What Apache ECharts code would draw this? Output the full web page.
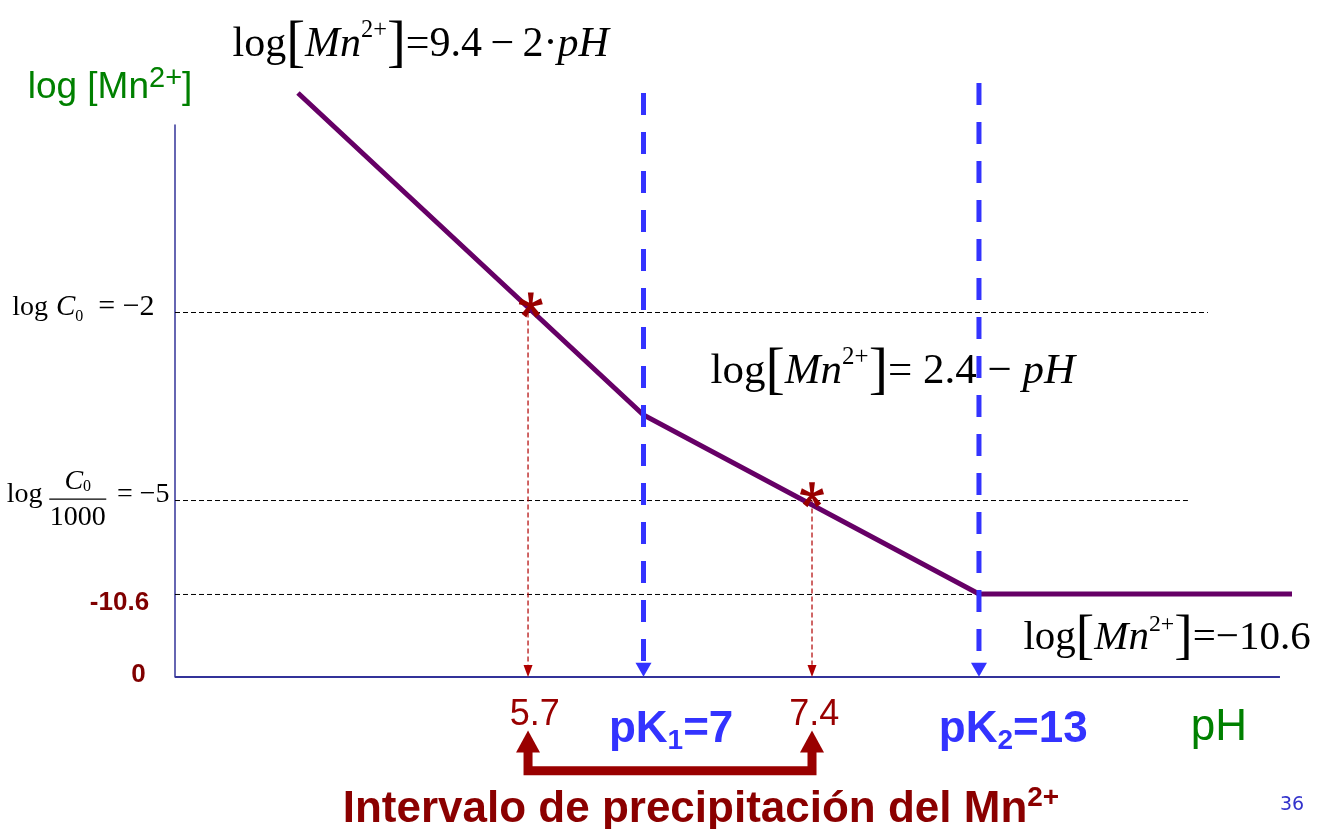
<!DOCTYPE html>
<html><head><meta charset="utf-8">
<script src="https://cdn.jsdelivr.net/npm/echarts@6/dist/echarts.min.js"></script>
<style>html,body{margin:0;padding:0;background:#fff}#c{width:1328px;height:829px}</style>
</head><body><div id="c"></div>
<script>
// Schematic diagram (not to scale): both axes use schematic units (pH axis drawn from 0 to 100).
// Real values and where they sit on the schematic axes:
const phValues = [5.7, 7, 7.4, 13];
const phLabels = ['5.7', 'pK1=7', '7.4', 'pK2=13'];
const phPos = [31.95, 42.4, 57.65, 72.76];
const logValues = [-2, -5, -10.6, 0];
const logPos = [66.03, 31.97, 14.95, 0];
// log[Mn2+] curve vertices (schematic units)
const curveX = [11.13, 42.4, 72.76, 101.09];
const curveY = [105.8, 47.46, 15.04, 15.04];
// extent of the axes, dashed guides and verticals
const phAxisEnd = 100;
const guideEndX = [93.48, 91.67, 86.88];
const pkTopY = [105.8, 107.6];
const starY = [67.4, 33.0];

const serif = 'Liberation Serif', sans = 'Liberation Sans';
const DRED = '#990000', BLUE = '#3333FF', PURPLE = '#660066', GREEN = '#008000', AXIS = '#333399';
const TS = '\u2009';

function eqRich(fs) {
  return {
    r: {fontFamily: serif, fontSize: fs, color: '#000', lineHeight: fs * 1.25},
    i: {fontFamily: serif, fontSize: fs, color: '#000', fontStyle: 'italic', lineHeight: fs * 1.25},
    b: {fontFamily: serif, fontSize: fs * 1.35, color: '#000', lineHeight: fs * 1.25},
    s: {fontFamily: serif, fontSize: fs * 0.58, color: '#000', lineHeight: fs * 1.2, verticalAlign: 'top'}
  };
}
function eqText(rhs) {
  return '{r|log}{b|[}{i|Mn}{s|2+}{b|]}' + rhs;
}

// asterisk symbol (5 spokes)
function asteriskPath() {
  let d = '';
  for (let k = 0; k < 5; k++) {
    const a = k * 72 * Math.PI / 180;
    const dx = Math.sin(a), dy = -Math.cos(a), px = Math.cos(a), py = Math.sin(a);
    const wi = 0.12, wo = 0.25;
    const pts = [[px * wi, py * wi], [dx + px * wo, dy + py * wo], [dx - px * wo, dy - py * wo], [-px * wi, -py * wi]];
    d += 'M' + pts.map(p => p[0].toFixed(3) + ' ' + p[1].toFixed(3)).join(' L') + ' Z ';
  }
  return 'path://' + d;
}

const series = [];
// pH axis line (ends before the curve does)
series.push({type: 'line', data: [[0, 0], [phAxisEnd, 0]], symbol: 'none', clip: false, silent: true,
  lineStyle: {color: AXIS, width: 2, cap: 'butt'}, z: 1});
// horizontal dashed guides
logPos.slice(0, 3).forEach((y, k) => {
  series.push({type: 'line', data: [[0, y], [guideEndX[k], y]], symbol: 'none', clip: false, silent: true,
    lineStyle: {color: '#000', width: 1, type: [5, 3]}, z: 1});
});
// red dashed verticals from the stars down to the axis
[0, 2].forEach((idx, k) => {
  series.push({type: 'line', data: [[phPos[idx], logPos[k]], [phPos[idx], 2.2]], symbol: 'none', clip: false, silent: true,
    lineStyle: {color: '#B00000', width: 1.2, type: [5, 3]}, z: 2});
});
series.push({type: 'scatter', data: [[phPos[0], 1.1], [phPos[2], 1.1]], symbol: 'triangle', symbolRotate: 180,
  symbolSize: [9, 12], itemStyle: {color: '#B00000', opacity: 1}, clip: false, silent: true, z: 2});
// curve
series.push({type: 'line', data: curveX.map((x, i) => [x, curveY[i]]), symbol: 'none', clip: false, silent: true,
  lineStyle: {color: PURPLE, width: 5, cap: 'butt', join: 'miter'}, z: 3});
// blue dashed pK lines
[1, 3].forEach((idx, k) => {
  series.push({type: 'line', data: [[phPos[idx], pkTopY[k]], [phPos[idx], 2.5]], symbol: 'none', clip: false, silent: true,
    lineStyle: {color: BLUE, width: 5, type: [22, 17], cap: 'butt'}, z: 4});
});
series.push({type: 'scatter', data: [[phPos[1], 1.3], [phPos[3], 1.3]], symbol: 'triangle', symbolRotate: 180,
  symbolSize: [16, 14], itemStyle: {color: BLUE, opacity: 1}, clip: false, silent: true, z: 4});
// stars
series.push({type: 'scatter', data: [[phPos[0] + 0.25, starY[0]], [phPos[2], starY[1]]], symbol: asteriskPath(),
  symbolSize: [24, 25], itemStyle: {color: DRED, opacity: 1}, clip: false, silent: true, z: 5});
// precipitation interval bracket
series.push({type: 'line', data: [[phPos[0], -12.5], [phPos[0], -17.0], [phPos[2], -17.0], [phPos[2], -12.5]],
  symbol: 'none', clip: false, silent: true, lineStyle: {color: DRED, width: 9, join: 'miter', cap: 'butt'}, z: 5});
series.push({type: 'scatter', data: [[phPos[0], -11.7], [phPos[2], -11.7]], symbol: 'triangle',
  symbolSize: [24, 22], itemStyle: {color: DRED, opacity: 1}, clip: false, silent: true, z: 5});

// text annotations
function txt(x, y, text, rich, position, extra) {
  return {value: [x, y], label: Object.assign({show: true, formatter: text, rich: rich,
    position: position || 'inside', distance: 0, opacity: 1}, extra || {})};
}
const phRichA = {a: {fontFamily: sans, fontSize: 36, color: DRED, lineHeight: 40}};
const pkRich = {
  a: {fontFamily: sans, fontSize: 44, fontWeight: 'bold', color: BLUE, lineHeight: 50},
  s: {fontFamily: sans, fontSize: 28, fontWeight: 'bold', color: BLUE, lineHeight: 30, verticalAlign: 'bottom'}
};
const ylRich = {a: {fontFamily: sans, fontSize: 26, fontWeight: 'bold', color: '#800000'}};
const lcRich = {
  r: {fontFamily: serif, fontSize: 28, color: '#000', lineHeight: 36},
  re: {fontFamily: serif, fontSize: 30, color: '#000', lineHeight: 36},
  rl: {fontFamily: serif, fontSize: 28, color: '#000', lineHeight: 36, padding: [0, 8, 0, 0]},
  i: {fontFamily: serif, fontSize: 29, color: '#000', fontStyle: 'italic', lineHeight: 36},
  d: {fontFamily: serif, fontSize: 16, color: '#000', lineHeight: 16, verticalAlign: 'bottom', padding: [0, 15, 0, 0]}
};
const fracRich = {
  c: {fontFamily: serif, fontSize: 28, color: '#000', fontStyle: 'italic', lineHeight: 27},
  d: {fontFamily: serif, fontSize: 16, color: '#000', lineHeight: 14, verticalAlign: 'bottom'},
  bar: {fontSize: 1, width: 57, height: 1.3, lineHeight: 8, backgroundColor: '#000'},
  n: {fontFamily: serif, fontSize: 28, color: '#000', lineHeight: 30}
};
const texts = [
  // y axis name
  txt(-5.88, 106.7, '{a|log [Mn}{s|2+}{a|]}', {
    a: {fontFamily: sans, fontSize: 37, color: GREEN, lineHeight: 48},
    s: {fontFamily: sans, fontSize: 29, color: GREEN, lineHeight: 30, verticalAlign: 'top'}}),
  // x axis name
  txt(94.48, -9.24, '{a|pH}', {a: {fontFamily: sans, fontSize: 44, color: GREEN}}),
  // pH tick labels
  txt(phPos[0] + 0.6, -6.9, '{a|' + phLabels[0] + '}', phRichA),
  txt(phPos[2] + 0.2, -6.9, '{a|' + phLabels[2] + '}', phRichA),
  txt(phPos[1] + 2.5, -9.6, '{a|pK}{s|1}{a|=' + phValues[1] + '}', pkRich),
  txt(phPos[3] + 3.1, -9.6, '{a|pK}{s|2}{a|=' + phValues[3] + '}', pkRich),
  // log tick labels
  txt(-2.3, 13.4, '{a|' + logValues[2] + '}', ylRich, 'left'),
  txt(-2.6, 0.4, '{a|' + logValues[3] + '}', ylRich, 'left'),
  txt(-1.8, 67.0, '{rl|log}{i|C}{d|0}{re|= −' + Math.abs(logValues[0]) + '}', lcRich, 'left'),
  txt(-11.95, 33.0, '{r|log}', lcRich, 'left'),
  txt(-8.8, logPos[1], '{c|C}{d|0}\n{bar| }\n{n|1000}', fracRich, 'inside', {align: 'center'}),
  txt(-0.45, 33.0, '{r|= −' + Math.abs(logValues[1]) + '}', lcRich, 'left'),
  // equations
  txt(5.16, 114.5, eqText('{r|=9.4' + TS + '−' + TS + '2·}{i|pH}'), eqRich(42), 'right'),
  txt(48.42, 55.25, eqText('{r|= 2.4 − }{i|pH}'), eqRich(43), 'right'),
  txt(76.74, 7.07, eqText('{r|=−10.6}'), eqRich(41), 'right'),
  // caption and page number
  txt(47.6, -24.0, '{a|Intervalo de precipitación del Mn}{s|2+}', {
    a: {fontFamily: sans, fontSize: 44, fontWeight: 'bold', color: '#8B0000', lineHeight: 50},
    s: {fontFamily: sans, fontSize: 28, fontWeight: 'bold', color: '#8B0000', lineHeight: 30, verticalAlign: 'top'}}),
  txt(101.1, -23.2, '{a|36}', {a: {fontFamily: 'DejaVu Sans', fontSize: 19, color: '#3333CC'}})
];
series.push({type: 'scatter', data: texts, symbolSize: 1, itemStyle: {color: 'rgba(0,0,0,0)', opacity: 1},
  clip: false, silent: true, z: 6});

const chart = echarts.init(document.getElementById('c'), null, {renderer: 'canvas'});
chart.setOption({
  animation: false,
  backgroundColor: '#fff',
  // x extent runs to the end of the curve; the pH axis line itself stops at phAxisEnd
  grid: {left: 175, top: 125, right: 36, bottom: 152, containLabel: false},
  xAxis: {type: 'value', min: 0, max: 101.09, axisLine: {show: false},
    axisTick: {show: false}, axisLabel: {show: false}, splitLine: {show: false}},
  yAxis: {type: 'value', min: 0, max: 100, axisLine: {show: true, onZero: false, lineStyle: {color: AXIS, width: 1.5}},
    axisTick: {show: false}, axisLabel: {show: false}, splitLine: {show: false}},
  series: series
});
</script></body></html>
